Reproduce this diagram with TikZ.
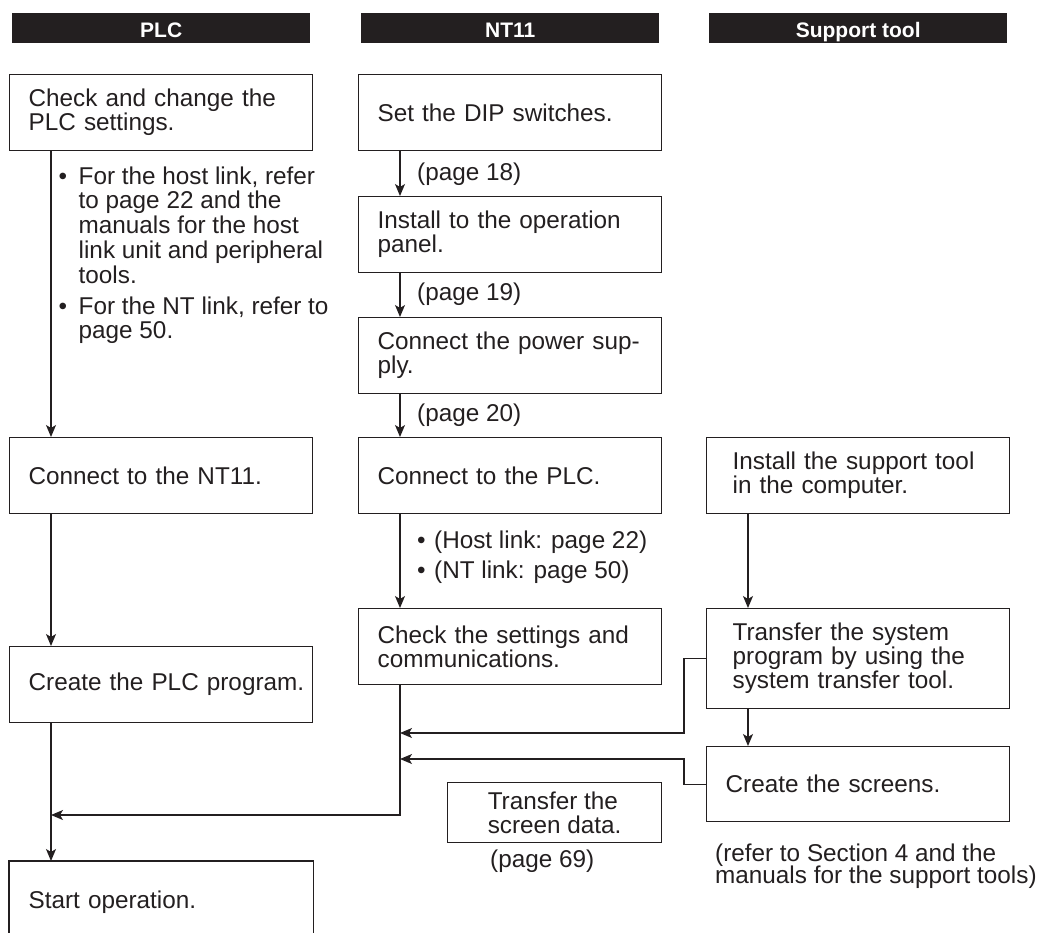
\documentclass[tikz,border=0pt]{standalone}
\usepackage{fontspec}
\setmainfont{Liberation Sans}
\usetikzlibrary{arrows.meta,calc}
\definecolor{ink}{HTML}{231F20}
\newcommand{\bodyfont}{\fontsize{24.3}{24}\selectfont}
\tikzset{
  box/.style={draw=ink, line width=1.3pt, anchor=north west, minimum height=76pt,
    inner xsep=0pt, inner ysep=0pt, text width=303pt, align=left, font=\bodyfont, text=ink,
    execute at begin node={\leftskip=#1\relax\hyphenpenalty=10000\relax}},
  box/.default=19pt,
  hdr/.style={fill=ink, text=white, font=\fontsize{21}{21}\bfseries\selectfont,
    minimum width=298pt, minimum height=30pt, anchor=north west, inner sep=0pt,
    text height=18pt, text depth=0pt},
  arr/.style={draw=ink, line width=1.2pt, -{Stealth[length=12pt,width=10pt,inset=3pt]}},
  lbl/.style={font=\bodyfont, text=ink, inner sep=0pt, anchor=base west},
}
\begin{document}
\begin{tikzpicture}[x=1pt,y=-1pt]
\useasboundingbox (0,0) rectangle (1041,932);
% headers
\node[hdr] (hplc) at (12,13) {PLC};
\node[hdr] (hnt) at (361,13) {NT11};
\node[hdr] (hsup) at (709,13) {Support tool};
% column axes
\coordinate (xp) at (51,0);
\coordinate (xn) at (400,0);
\coordinate (xs) at (748,0);
% PLC column
\node[box] (chg) at (9,74) {Check and change the\\PLC settings.};
\node[box] (cnt) at (9,437) {Connect to the NT11.};
\node[box] (cpp) at (9,646) {Create the PLC program.};
\node[box, draw=none, minimum height=82pt] (st) at (9,861) {Start operation.};
\draw[ink, line width=1.3pt] (st.south west) -- (st.north west) -- (st.north east) -- (st.south east);
\node[lbl] (bl1) at (58.5,184) {\begin{tabular}[t]{@{}l@{\hspace{11.5pt}}l@{}}
  •&For the host link, refer\\
   &to page 22 and the\\
   &manuals for the host\\
   &link unit and peripheral\\
   &tools.\\[6pt]
  •&For the NT link, refer to\\
   &page 50.
\end{tabular}};
% NT11 column
\node[box] (dip) at (358,74) {Set the DIP switches.};
\node[box] (ins) at (358,196) {Install to the operation\\panel.};
\node[box] (pwr) at (358,317) {Connect the power sup-\\ply.};
\node[box] (cpl) at (358,437) {Connect to the PLC.};
\node[box] (chk) at (358,608) {Check the settings and\\communications.};
\node[draw=ink, line width=1.3pt, anchor=north west, minimum width=214pt, minimum height=60pt,
  inner sep=0pt, align=left, font=\bodyfont, text=ink] (tsd) at (447,782) {Transfer the\\screen data.};
\node[lbl] (p18) at (417,180) {(page 18)};
\node[lbl] (p19) at (417,300) {(page 19)};
\node[lbl] (p20) at (417,421) {(page 20)};
\node[lbl] (bl2) at (417,548) {\begin{tabular}[t]{@{}l@{\hspace{8.5pt}}l@{}}
  •&(Host link: page 22)\\[6pt]
  •&(NT link: page 50)
\end{tabular}};
\node[lbl] (p69) at (490,867) {(page 69)};
% Support tool column
\node[box=26pt] (isup) at (706,437) {Install the support tool\\in the computer.};
\node[box=26pt, minimum height=100pt] (tsys) at (706,608) {Transfer the system\\program by using the\\system transfer tool.};
\node[box, minimum height=75pt] (scr) at (706,746) {Create the screens.};
\node[lbl] (note) at (715,861) {\begin{tabular}[t]{@{}l@{}}
  (refer to Section 4 and the\\[-2pt]
  manuals for the support tools)
\end{tabular}};
% connectors
\draw[arr] (chg.south -| xp) -- (cnt.north -| xp);
\draw[arr] (cnt.south -| xp) -- (cpp.north -| xp);
\draw[arr] (cpp.south -| xp) -- (st.north -| xp);
\draw[arr] (dip.south -| xn) -- (ins.north -| xn);
\draw[arr] (ins.south -| xn) -- (pwr.north -| xn);
\draw[arr] (pwr.south -| xn) -- (cpl.north -| xn);
\draw[arr] (cpl.south -| xn) -- (chk.north -| xn);
\coordinate (m1) at (51,815);
\draw[arr] (chk.south -| xn) |- (m1);
\draw[arr] (isup.south -| xs) -- (tsys.north -| xs);
\draw[arr] (tsys.south -| xs) -- (scr.north -| xs);
\coordinate (j1) at (684,733);
\coordinate (j2) at (684,759);
\draw[arr] (tsys.west) -| (j1) -- (j1 -| xn);
\draw[arr] (scr.west) -| (j2) -- (j2 -| xn);
\end{tikzpicture}
\end{document}
